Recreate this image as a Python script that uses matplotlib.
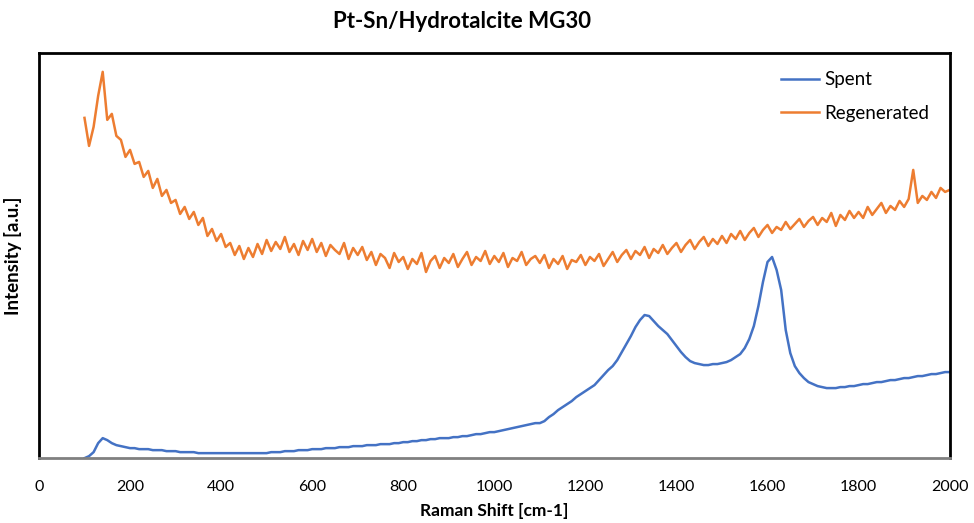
import numpy as np
import matplotlib
matplotlib.use('Agg')
import matplotlib.pyplot as plt

# Raman shift axis (cm-1), values read every 10 cm-1
shift = np.arange(100, 2001, 10)

# Regenerated spectrum (arbitrary units)
regenerated = [
    340, 312, 331, 362, 386, 338, 344, 322, 318, 301,
    308, 294, 296, 281, 287, 270, 279, 262, 268, 255,
    258, 244, 251, 239, 246, 233, 240, 222, 229, 217,
    224, 211, 215, 203, 212, 199, 210, 201, 214, 204,
    218, 207, 216, 209, 221, 206, 214, 203, 217, 208,
    219, 206, 215, 202, 213, 208, 204, 215, 199, 210,
    203, 211, 198, 206, 193, 204, 200, 190, 205, 196,
    201, 189, 199, 194, 205, 186, 197, 202, 190, 200,
    195, 204, 191, 199, 206, 193, 201, 197, 207, 194,
    202, 196, 205, 191, 200, 197, 206, 193, 199, 202,
    195, 203, 190, 199, 194, 202, 189, 198, 196, 203,
    193, 201, 197, 204, 192, 199, 206, 196, 203, 208,
    199, 207, 203, 211, 200, 209, 205, 213, 204, 210,
    215, 206, 213, 218, 209, 216, 221, 212, 219, 214,
    222, 215, 224, 219, 227, 218, 225, 230, 221, 228,
    233, 225, 231, 228, 236, 229, 234, 239, 231, 237,
    241, 233, 240, 236, 245, 232, 243, 238, 247, 240,
    246, 240, 251, 243, 249, 255, 245, 252, 248, 257,
    251, 259, 288, 255, 262, 258, 266, 260, 270, 266,
    268,
]

# Spent spectrum (arbitrary units)
spent = [
    0, 2, 6, 15, 20, 18, 15, 13, 12, 11,
    10, 10, 9, 9, 9, 8, 8, 8, 7, 7,
    7, 6, 6, 6, 6, 5, 5, 5, 5, 5,
    5, 5, 5, 5, 5, 5, 5, 5, 5, 5,
    5, 6, 6, 6, 7, 7, 7, 8, 8, 8,
    9, 9, 9, 10, 10, 10, 11, 11, 11, 12,
    12, 12, 13, 13, 13, 14, 14, 14, 15, 15,
    16, 16, 17, 17, 18, 18, 19, 19, 20, 20,
    20, 21, 21, 22, 22, 23, 24, 24, 25, 26,
    26, 27, 28, 29, 30, 31, 32, 33, 34, 35,
    35, 37, 41, 44, 48, 51, 54, 57, 61, 64,
    67, 70, 73, 78, 83, 88, 92, 98, 106, 114,
    122, 131, 138, 143, 142, 137, 132, 128, 124, 118,
    112, 106, 101, 97, 95, 94, 93, 93, 94, 94,
    95, 96, 98, 101, 104, 110, 119, 132, 152, 176,
    196, 201, 188, 168, 128, 105, 92, 85, 80, 76,
    74, 72, 71, 70, 70, 70, 71, 71, 72, 72,
    73, 74, 74, 75, 76, 76, 77, 78, 78, 79,
    80, 80, 81, 82, 82, 83, 84, 84, 85, 86,
    86,
]

plt.rcParams['font.family'] = ['Lato', 'DejaVu Sans']

fig = plt.figure(figsize=(9.74, 5.23), dpi=100)
ax = fig.add_axes([0.040, 0.124, 0.935, 0.775])

ax.plot(shift, spent, color='#4472C4', linewidth=1.8, label='Spent')
ax.plot(shift, regenerated, color='#ED7D31', linewidth=1.8, label='Regenerated')

ax.set_xlim(0, 2000)
ax.set_ylim(0, 405)
ax.set_xticks(np.arange(0, 2001, 200))
ax.set_yticks([])
ax.tick_params(axis='x', length=0, pad=16, labelsize=11.5)

for side in ['left', 'top', 'right']:
    ax.spines[side].set_color('black')
    ax.spines[side].set_linewidth(2)
ax.spines['bottom'].set_color('#808080')
ax.spines['bottom'].set_linewidth(2)

ax.set_xlabel('Raman Shift [cm-1]', fontsize=12.5, fontweight='bold', labelpad=6)
ax.set_ylabel('Intensity [a.u.]', fontsize=13.5, fontweight='bold', labelpad=12)

fig.text(0.474, 0.958, 'Pt-Sn/Hydrotalcite MG30', ha='center', va='center',
         fontsize=16, fontweight='bold')

ax.legend(loc='upper left', bbox_to_anchor=(0.815, 0.955), frameon=False,
          fontsize=13.5, handlelength=2.0, handletextpad=0.3, labelspacing=0.9,
          borderaxespad=0, borderpad=0)

fig.savefig('out.png', dpi=100)
